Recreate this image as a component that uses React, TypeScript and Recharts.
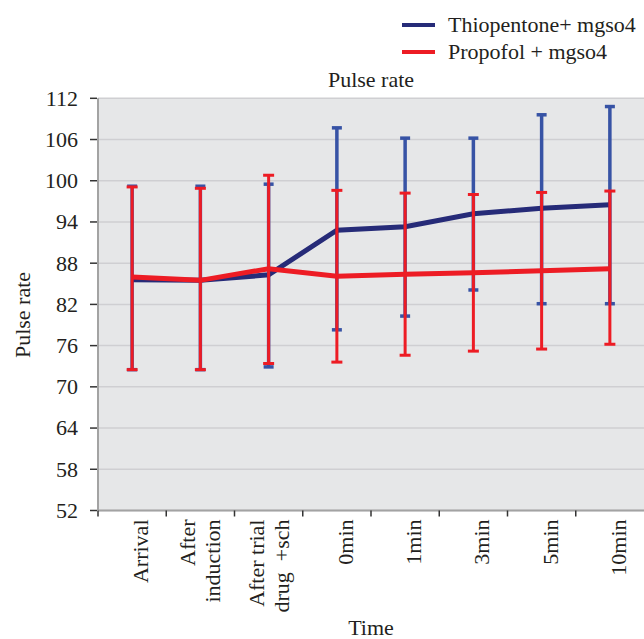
import { LineChart, Line, XAxis, YAxis, CartesianGrid, ErrorBar, Legend } from 'recharts';

const categories = ['Arrival', 'After\ninduction', 'After trial\ndrug  +sch', '0min', '1min', '3min', '5min', '10min'];
const yTicks = [52, 58, 64, 70, 76, 82, 88, 94, 100, 106, 112];

// Thiopentone + MgSO4: mean with lower / upper bounds
const thioMean = [85.6, 85.5, 86.3, 92.8, 93.3, 95.2, 96.0, 96.5];
const thioLow = [72.5, 72.5, 72.9, 78.3, 80.3, 84.1, 82.1, 82.1];
const thioHigh = [99.2, 99.2, 99.5, 107.7, 106.2, 106.2, 109.6, 110.8];

// Propofol + MgSO4
const propMean = [86.0, 85.5, 87.2, 86.1, 86.4, 86.6, 86.9, 87.2];
const propLow = [72.5, 72.5, 73.4, 73.6, 74.6, 75.2, 75.5, 76.2];
const propHigh = [99.1, 98.9, 100.8, 98.6, 98.2, 98.0, 98.3, 98.5];

const NAVY = '#262b78';
const RED = '#ed1c24';
const BLUE_BAR = '#3753a5';
const TEXT = '#231f20';
const FONT = '"Liberation Serif", "Times New Roman", serif';
const BAND = 546 / categories.length;

const data = categories.map((name, i) => ({
  name,
  thio: thioMean[i],
  thioErr: [thioMean[i] - thioLow[i], thioHigh[i] - thioMean[i]],
  prop: propMean[i],
  propErr: [propMean[i] - propLow[i], propHigh[i] - propMean[i]],
}));

// category label rotated upwards, tick mark sits on the band boundary
const XTick = ({ x, y, payload }: any) => {
  const lines: string[] = String(payload.value).split('\n');
  const offsets = lines.length === 1 ? [16] : [-5, 20];
  const left = x - BAND / 2;
  return (
    <g>
      <line x1={left} y1={y} x2={left} y2={y + 6} stroke="#333" strokeWidth={1.5} />
      {lines.map((ln, i) => {
        const bx = x + offsets[i];
        const ty = y + 9;
        return (
          <text key={i} x={bx} y={ty} transform={`rotate(-90, ${bx}, ${ty})`} textAnchor="end"
            fontFamily={FONT} fontSize={22} fill={TEXT} style={{ whiteSpace: 'pre' }}>
            {ln}
          </text>
        );
      })}
    </g>
  );
};

const YTick = ({ x, y, payload }: any) => (
  <g>
    <line x1={x - 8} y1={y} x2={x - 1} y2={y} stroke="#333" strokeWidth={1.5} />
    <text x={x - 20} y={y + 7.4} textAnchor="end" fontFamily={FONT} fontSize={22} fill={TEXT}>
      {payload.value}
    </text>
  </g>
);

const legendItems = [
  { label: 'Thiopentone+ mgso4', color: NAVY },
  { label: 'Propofol + mgso4', color: RED },
];

const LegendBox = () => (
  <div style={{ fontFamily: FONT, fontSize: 22, color: TEXT }}>
    {legendItems.map((it) => (
      <div key={it.label} style={{ display: 'flex', alignItems: 'center', height: 26.5, lineHeight: '26px' }}>
        <span style={{ display: 'inline-block', width: 33, height: 4, background: it.color, marginRight: 13 }} />
        <span style={{ whiteSpace: 'nowrap' }}>{it.label}</span>
      </div>
    ))}
  </div>
);

export default function App() {
  return (
    <div style={{ position: 'absolute', left: 0, top: 0, width: 644, height: 639, overflow: 'hidden', background: '#fff' }}>
      <div style={{ position: 'absolute', left: 271, top: 68.6, width: 200, textAlign: 'center', fontFamily: FONT, fontSize: 22, lineHeight: '22px', color: TEXT }}>
        Pulse rate
      </div>
      <LineChart width={644} height={639} data={data} margin={{ top: 98.3, right: 0, bottom: 0, left: 0 }}>
        <CartesianGrid vertical={false} fill="#e6e7e8" stroke="#cfcfd2" strokeWidth={1.5} />
        <XAxis
          dataKey="name"
          scale="band"
          height={128.5}
          interval={0}
          tickLine={false}
          tickSize={0}
          tickMargin={0}
          axisLine={{ stroke: '#a3a3a3', strokeWidth: 2 }}
          tick={<XTick />}
          label={{
            content: ({ viewBox }: any) => (
              <text x={viewBox.x + viewBox.width / 2} y={635} textAnchor="middle" fontFamily={FONT} fontSize={22} fill={TEXT}>
                Time
              </text>
            ),
          }}
        />
        <YAxis
          width={98}
          domain={[52, 112]}
          ticks={yTicks}
          allowDataOverflow
          tickLine={false}
          tickSize={0}
          tickMargin={0}
          axisLine={{ stroke: '#a3a3a3', strokeWidth: 2 }}
          tick={<YTick />}
          label={{
            content: () => (
              <text x={30} y={315} transform="rotate(-90, 30, 315)" textAnchor="middle" fontFamily={FONT} fontSize={22} fill={TEXT}>
                Pulse rate
              </text>
            ),
          }}
        />
        <Legend
          verticalAlign="middle"
          align="center"
          content={<LegendBox />}
          wrapperStyle={{ position: 'absolute', top: 12, left: 402, width: 240 }}
        />
        <Line dataKey="thio" name="Thiopentone+ mgso4" type="linear" stroke={NAVY} strokeWidth={5} dot={false} isAnimationActive={false}>
          <ErrorBar dataKey="thioErr" direction="y" width={5} stroke={BLUE_BAR} strokeWidth={3.5} isAnimationActive={false} />
        </Line>
        <Line dataKey="prop" name="Propofol + mgso4" type="linear" stroke={RED} strokeWidth={5} dot={false} isAnimationActive={false}>
          <ErrorBar dataKey="propErr" direction="y" width={5.5} stroke={RED} strokeWidth={3} isAnimationActive={false} />
        </Line>
      </LineChart>
    </div>
  );
}
